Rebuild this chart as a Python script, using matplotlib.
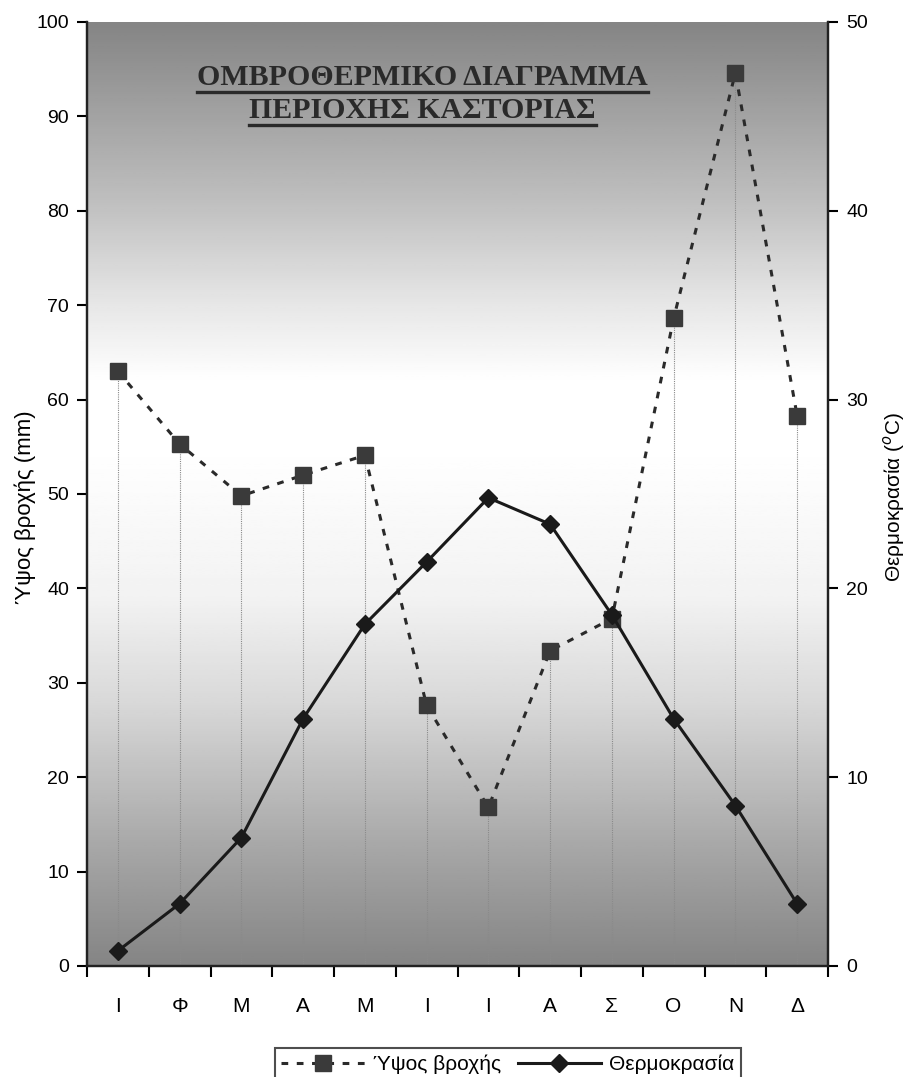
# Ombrothermic diagram for Kastoria
import numpy as np
import matplotlib
matplotlib.use('Agg')
import matplotlib.pyplot as plt
from matplotlib.lines import Line2D

plt.rcParams['font.family'] = ['Liberation Sans', 'DejaVu Sans']

# data
months = ['Ι', 'Φ', 'Μ', 'Α', 'Μ', 'Ι', 'Ι', 'Α', 'Σ', 'Ο', 'Ν', 'Δ']
rain = [63.0, 55.3, 49.8, 52.0, 54.1, 27.6, 16.8, 33.4, 36.8, 68.6, 94.6, 58.3]
temp = [0.8, 3.3, 6.8, 13.1, 18.1, 21.4, 24.8, 23.4, 18.6, 13.1, 8.5, 3.3]

title_lines = ['ΟΜΒΡΟΘΕΡΜΙΚΟ ΔΙΑΓΡΑΜΜΑ', 'ΠΕΡΙΟΧΗΣ ΚΑΣΤΟΡΙΑΣ']

x = np.arange(len(months))

fig = plt.figure(figsize=(9.09, 10.77), dpi=100)
ax = fig.add_axes([87/909, 1 - 966/1077, 741/909, 944/1077])
ax2 = ax.twinx()

# grey gradient background (dark top, white middle, dark bottom)
stops = [0.0, 0.12, 0.28, 0.39, 0.55, 0.62, 0.705, 0.81, 1.0]
greys = [0.52, 0.65, 0.85, 0.95, 1.0, 1.0, 0.9, 0.75, 0.52]
yy = np.linspace(0, 1, 400)
col = np.interp(yy, stops, greys)[:, None]
ax.imshow(col, cmap='gray', vmin=0, vmax=1, aspect='auto', origin='lower',
          extent=[0, 1, 0, 1], transform=ax.transAxes, zorder=0)

# drop lines from rain points
ax.vlines(x, 0, rain, colors='#8a8a8a', linewidth=0.8, linestyles=(0, (1, 1)), zorder=1)

ax.plot(x, rain, linestyle=(0, (2.2, 2.8)), color='#2a2a2a', linewidth=2.2,
        marker='s', markersize=11, markerfacecolor='#3a3a3a', markeredgecolor='#3a3a3a', zorder=3)
ax2.plot(x, temp, linestyle='-', color='#1a1a1a', linewidth=2.2,
         marker='D', markersize=9, markerfacecolor='#1a1a1a', markeredgecolor='#1a1a1a', zorder=3)

ax.set_xlim(-0.5, len(months) - 0.5)
ax.set_ylim(0, 100)
ax2.set_ylim(0, 50)
ax.set_yticks(np.arange(0, 101, 10))
ax2.set_yticks(np.arange(0, 51, 10))

narrow = ['Liberation Sans Narrow', 'Liberation Sans', 'DejaVu Sans']
ax.set_xticks(np.arange(-0.5, len(months)), labels=[])
ax.set_xticks(x, minor=True)
ax.set_xticklabels(months, minor=True, fontsize=15, family=narrow)
ax.tick_params(axis='x', which='major', length=8, width=1.5, direction='out')
ax.tick_params(axis='x', which='minor', length=0, pad=22)
ax.tick_params(axis='y', length=7, width=1.5, labelsize=14, pad=6)
ax2.tick_params(axis='y', length=7, width=1.5, labelsize=14, pad=6)

for a in (ax, ax2):
    a.spines['top'].set_visible(False)
    for s in ('left', 'right', 'bottom'):
        a.spines[s].set_linewidth(1.6)
        a.spines[s].set_color('#222222')

# axis titles
fig.text(25/909, 1 - 507/1077, 'Ύψος βροχής (mm)', rotation=90, ha='center', va='center',
         fontsize=16, family=narrow)
fig.text(894/909, 1 - 497/1077, 'Θερμοκρασία ($^{o}$C)', rotation=90, ha='center', va='center',
         fontsize=15, family=narrow)

# title with underline
t1 = ax.text(0.453, 0.941, title_lines[0], transform=ax.transAxes, ha='center', va='center',
             fontsize=21.5, fontweight='bold', family='Liberation Serif', color='#2a2a2a', zorder=5)
t2 = ax.text(0.453, 0.906, title_lines[1], transform=ax.transAxes, ha='center', va='center',
             fontsize=21.5, fontweight='bold', family='Liberation Serif', color='#2a2a2a', zorder=5)
fig.canvas.draw()
r = fig.canvas.get_renderer()
for t in (t1, t2):
    bb = t.get_window_extent(r)
    yl = bb.y0 - 1
    fig.add_artist(Line2D([bb.x0 / 909, bb.x1 / 909], [yl / 1077, yl / 1077],
                          color='#2a2a2a', linewidth=2.4, zorder=6))

# legend
h1 = Line2D([], [], linestyle=(0, (2.2, 2.8)), color='#2a2a2a', linewidth=2.2,
            marker='s', markersize=11, markerfacecolor='#3a3a3a', markeredgecolor='#3a3a3a')
h2 = Line2D([], [], linestyle='-', color='#1a1a1a', linewidth=2.2,
            marker='D', markersize=9, markerfacecolor='#1a1a1a')
leg = fig.legend([h1, h2], ['Ύψος βροχής', 'Θερμοκρασία'], loc='upper center',
                 bbox_to_anchor=(508/909, 1 - 1038/1077), ncol=2, fontsize=15,
                 frameon=True, fancybox=False, edgecolor='#222222',
                 handlelength=4, columnspacing=0.8, handletextpad=0.4, borderpad=0.3)
leg.get_frame().set_linewidth(1.5)

fig.savefig('out.png', dpi=100)
